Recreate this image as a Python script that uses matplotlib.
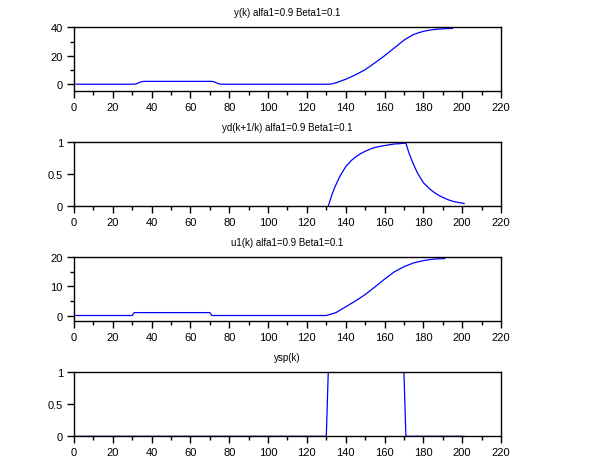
import matplotlib
matplotlib.use("Agg")
from matplotlib import pyplot as plt
from matplotlib.ticker import MultipleLocator

plt.rc('font', family=['Liberation Sans', 'DejaVu Sans'], size=7)

# y(k)
k_y = [1, 31, 32, 33, 34, 35, 36, 70, 71, 72, 73, 74, 75, 76, 132, 135, 140, 145, 150, 155,
       160, 165, 170, 173, 175, 178, 180, 183, 185, 188, 190, 193, 195]
y = [0, 0, 0.2, 0.8, 1.4, 1.8, 2.0, 2.0, 2.0, 1.8, 1.2, 0.6, 0.2, 0, 0, 1.0, 3.5, 6.6, 10.2, 15.0,
     20.0, 25.5, 31.0, 33.5, 35.0, 36.4, 37.2, 38.0, 38.4, 38.8, 39.0, 39.2, 39.3]

# yd(k+1/k)
k_yd = [131, 132, 133, 134, 135, 137, 140, 143, 145, 148, 150, 153, 155, 158, 160, 163, 165,
        168, 171, 172, 173, 175, 177, 180, 183, 185, 188, 190, 193, 195, 198, 201]
yd = [0, 0.10, 0.19, 0.27, 0.34, 0.47, 0.62, 0.72, 0.77, 0.83, 0.86, 0.90, 0.92, 0.94, 0.95,
      0.965, 0.975, 0.98, 0.99, 0.89, 0.80, 0.65, 0.52, 0.37, 0.28, 0.23, 0.17, 0.14, 0.10, 0.08,
      0.06, 0.045]

# u1(k)
k_u = [1, 30, 31, 70, 71, 130, 135, 140, 145, 150, 155, 160, 165, 170, 175, 180, 185, 191]
u1 = [0, 0, 1, 1, 0, 0, 1.0, 3.0, 5.0, 7.2, 9.8, 12.5, 15.0, 16.8, 18.1, 18.9, 19.4, 19.6]

# ysp(k)
k_sp = [1, 130, 131, 170, 171, 201]
ysp = [0, 0, 1, 1, 0, 0]

titles = ['y(k) alfa1=0.9 Beta1=0.1', 'yd(k+1/k) alfa1=0.9 Beta1=0.1',
          'u1(k) alfa1=0.9 Beta1=0.1', 'ysp(k)']
series = [(k_y, y), (k_yd, yd), (k_u, u1), (k_sp, ysp)]
ylims = [(-5, 40), (0, 1), (-2, 20), (0, 1)]
ymajor = [20, 0.5, 10, 0.5]
yminor = [10, None, 5, None]
bottoms = [0.7993, 0.5493, 0.2993, 0.0493]

fig = plt.figure(figsize=(6.1, 4.6), dpi=100)
for i in range(4):
    ax = fig.add_axes([0.1213, bottoms[i], 0.700, 0.139])
    ax.plot(series[i][0], series[i][1], color='blue', linewidth=0.9)
    ax.set_xlim(0, 220)
    ax.set_ylim(*ylims[i])
    ax.xaxis.set_major_locator(MultipleLocator(20))
    ax.xaxis.set_minor_locator(MultipleLocator(10))
    ax.yaxis.set_major_locator(MultipleLocator(ymajor[i]))
    if yminor[i]:
        ax.yaxis.set_minor_locator(MultipleLocator(yminor[i]))
    else:
        ax.yaxis.set_minor_locator(plt.NullLocator())
    ax.tick_params(which='major', direction='out', length=5, width=1, pad=3, labelsize=8)
    ax.tick_params(which='minor', direction='out', length=3, width=1)
    ax.set_title(titles[i], fontsize=7, pad=9)
    for s in ax.spines.values():
        s.set_linewidth(1)
    ax.yaxis.set_major_formatter(plt.FuncFormatter(lambda v, p: ('%g' % v)))

fig.savefig('out.png', dpi=100)
